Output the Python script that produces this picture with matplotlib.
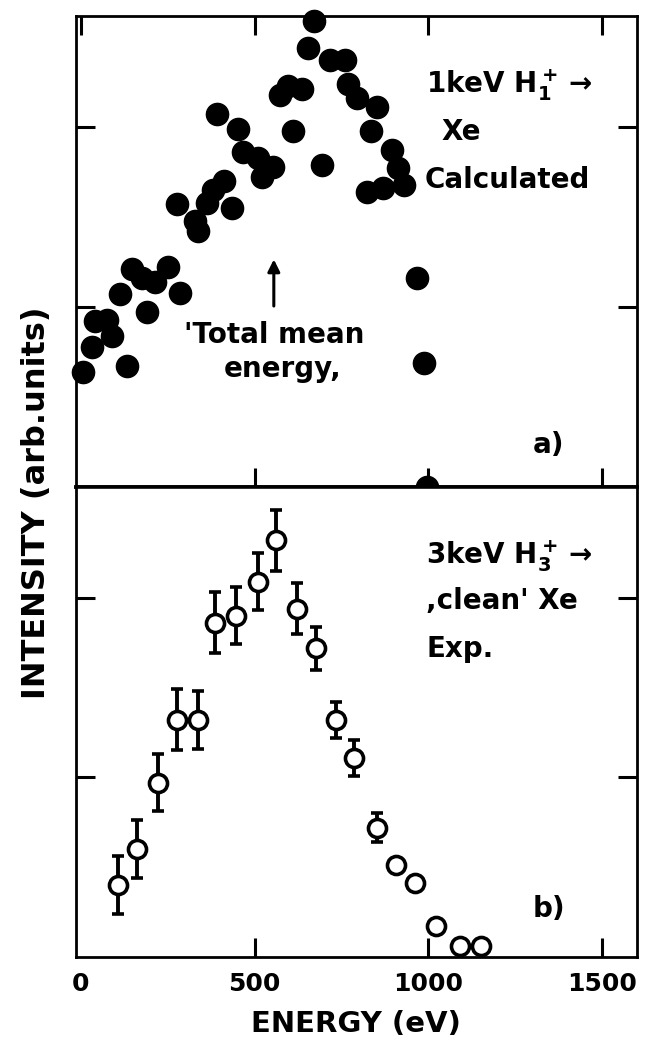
import numpy as np
import matplotlib.pyplot as plt

plt.rcParams['font.family'] = ['DejaVu Sans']
plt.rcParams['font.weight'] = 'bold'
plt.rcParams['axes.labelweight'] = 'bold'
plt.rcParams['mathtext.default'] = 'bf'

# a) calculated spectrum, 1 keV H1+ on Xe
calc_energy = [6, 32, 40, 75, 89, 132, 112, 147, 175, 213, 190, 250, 284,
               276, 328, 336, 362, 379, 411, 434, 391, 451, 466, 509, 552,
               520, 572, 595, 635, 609, 652, 672, 716, 759, 767, 793, 853,
               836, 693, 894, 911, 931, 868, 822, 966, 986, 997]
calc_intensity = [0.64, 0.78, 0.92, 0.93, 0.84, 0.67, 1.07, 1.21, 1.16, 1.14,
                  0.97, 1.22, 1.08, 1.57, 1.48, 1.42, 1.58, 1.65, 1.70, 1.55,
                  2.07, 1.99, 1.86, 1.83, 1.78, 1.72, 2.18, 2.23, 2.21, 1.98,
                  2.44, 2.59, 2.37, 2.37, 2.24, 2.16, 2.11, 1.98, 1.79, 1.87,
                  1.77, 1.68, 1.66, 1.64, 1.16, 0.69, 0.0]

# b) measured spectrum, 3 keV H3+ on clean Xe
exp_energy = [107, 160, 222, 277, 337, 387, 447, 509, 560, 623, 677, 735,
              787, 851, 907, 960, 1022, 1090, 1150]
exp_intensity = [0.40, 0.60, 0.97, 1.32, 1.32, 1.86, 1.90, 2.09, 2.32, 1.94,
                 1.72, 1.32, 1.11, 0.72, 0.51, 0.41, 0.17, 0.06, 0.06]
exp_error = [0.16, 0.16, 0.16, 0.17, 0.16, 0.17, 0.16, 0.16, 0.17, 0.14,
             0.12, 0.10, 0.10, 0.08, 0, 0, 0, 0, 0]

energy_ticks = [0, 500, 1000, 1500]

fig = plt.figure(figsize=(6.45, 10.6), dpi=100)
ax_a = fig.add_axes([0.1174, 0.5406, 0.8702, 0.4443])
ax_b = fig.add_axes([0.1174, 0.0972, 0.8702, 0.4434])

for ax in (ax_a, ax_b):
    ax.set_xlim(-15, 1600)
    ax.set_ylim(0, 2.617)
    ax.set_xticks(energy_ticks)
    ax.set_yticks([1, 2])
    ax.set_yticklabels([])
    ax.tick_params(direction='in', length=14, width=2.2,
                   left=True, right=True, labelsize=18, pad=11)
    for s in ax.spines.values():
        s.set_linewidth(2.0)
    # no mark at zero, only the label
    ax.xaxis.get_major_ticks()[0].tick1line.set_visible(False)
    ax.xaxis.get_major_ticks()[0].tick2line.set_visible(False)

ax_a.tick_params(top=True, labelbottom=False)
ax_a.spines['bottom'].set_linewidth(2.6)
ax_b.spines['top'].set_linewidth(2.6)

# panel a
ax_a.plot(calc_energy, calc_intensity, 'o', color='black', ms=16,
          clip_on=False, zorder=5)
ax_a.annotate('', xy=(555, 1.28), xytext=(555, 0.99),
              arrowprops=dict(arrowstyle='-|>', color='black', lw=2.2,
                              mutation_scale=18))
ax_a.text(555, 0.80, "'Total mean", fontsize=20, ha='center', va='baseline')
ax_a.text(580, 0.61, "energy,", fontsize=20, ha='center', va='baseline')
ax_a.text(994, 2.19, r"1keV H$_1^+$$\rightarrow$", fontsize=20, va='baseline')
ax_a.text(1037, 1.93, "Xe", fontsize=20, va='baseline')
ax_a.text(990, 1.66, "Calculated", fontsize=20, va='baseline')
ax_a.text(1299, 0.19, "a)", fontsize=20, va='baseline')

# panel b
e = np.array(exp_energy)
i = np.array(exp_intensity)
err = np.array(exp_error)
bars = err > 0
ax_b.errorbar(e[bars], i[bars], yerr=err[bars], fmt='o', color='black',
              mfc='white', mec='black', mew=2.6, ms=13, elinewidth=2.8,
              capsize=4.5, capthick=3, clip_on=False, zorder=4)
ax_b.plot(e[~bars], i[~bars], 'o', mfc='white', mec='black', mew=2.6, ms=13,
          clip_on=False, zorder=4)
ax_b.text(994, 2.19, r"3keV H$_3^+$$\rightarrow$", fontsize=20, va='baseline')
ax_b.text(994, 1.94, ",clean' Xe", fontsize=20, va='baseline')
ax_b.text(994, 1.67, "Exp.", fontsize=20, va='baseline')
ax_b.text(1299, 0.22, "b)", fontsize=20, va='baseline')

ax_b.set_xlabel("ENERGY (eV)", fontsize=21, labelpad=10)
fig.text(0.056, 0.526, "INTENSITY (arb.units)", fontsize=23, rotation=90,
         ha='center', va='center')

fig.savefig('out.png', dpi=100)
